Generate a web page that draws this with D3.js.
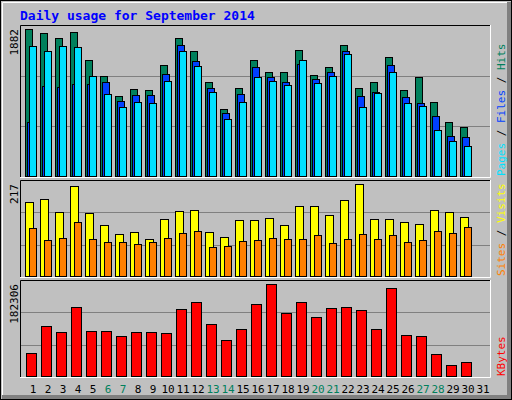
<!DOCTYPE html>
<html>
<head>
<meta charset="utf-8">
<script src="https://cdn.jsdelivr.net/npm/d3@7"></script>
<style>
  body { margin: 0; background: #fff; }
  text { font-family: "DejaVu Sans Mono", monospace; }
</style>
</head>
<body>
<div id="grafica"></div>
<script>
// datos
const days = d3.range(1, 32);
const weekend = [6, 7, 13, 14, 20, 21, 27, 28];
const hits  = [1882,1831,1767,1844,1484,1279,1023,1112,1100,1420,1767,1600,1202,856,1125,1484,1330,1330,1613,1292,1395,1677,1125,1202,1523,1100,1266,946,689,625];
const files = [689,1151,1138,1180,1180,1202,958,1035,1035,1305,1677,1472,1125,804,1048,1395,1266,1202,1433,1241,1330,1600,1023,1074,1420,1010,933,766,509,497];
const pages = [1664,1600,1664,1651,1279,1048,881,946,933,1215,1600,1407,1074,727,946,1266,1215,1164,1484,1189,1279,1561,881,1061,1330,933,894,586,445,381];
const visits = [174,181,151,212,148,120,99,103,87,134,153,155,103,92,132,132,136,120,165,165,144,179,217,134,134,127,122,155,151,139];
const sites  = [113,84,89,127,87,80,80,75,80,89,101,106,68,70,82,84,89,87,87,96,77,87,99,87,96,80,84,106,101,115];
const kbytes = [46078,98165,88150,136231,90150,90150,80134,88150,88150,86145,132224,146248,102173,72121,92156,142241,182306,124208,146248,116197,134226,136231,130219,92156,174293,82139,80134,44075,22037,28047];

const W = 512, H = 400;
const left = 20, right = 490;

const svg = d3.select("#grafica").append("svg")
  .attr("width", W).attr("height", H);

// fondo y borde 3D
svg.append("rect").attr("width", W).attr("height", H).attr("fill", "#c0c0c0");
svg.append("rect").attr("x", 0.5).attr("y", 0.5).attr("width", W - 1).attr("height", H - 1)
  .attr("fill", "none").attr("stroke", "#000");
svg.append("path").attr("d", `M2.5,${H - 4} V2.5 H${W - 4}`).attr("fill", "none").attr("stroke", "#fff");
svg.append("path").attr("d", `M${W - 3},2 V${H - 3} H2`).attr("fill", "none").attr("stroke", "#808080").attr("stroke-width", 4);

svg.append("text").attr("x", 20).attr("y", 20)
  .attr("fill", "#0000ff").attr("font-size", 13).attr("font-weight", "bold")
  .text("Daily usage for September 2014");

const x = d3.scaleLinear().domain([1, 31]).range([25, 25 + 30 * 15]);

function panel(top, bottom, maxVal, series, labels, maxLabel) {
  const y = d3.scaleLinear().domain([0, maxVal]).range([bottom - 1, top + 4]);
  const g = svg.append("g");
  // marco
  g.append("path").attr("d", `M${left + 0.5},${bottom} V${top + 0.5} H${right}`)
    .attr("fill", "none").attr("stroke", "#000");
  g.append("path").attr("d", `M${left},${bottom + 0.5} H${right + 0.5} V${top}`)
    .attr("fill", "none").attr("stroke", "#fff");
  // lineas de rejilla
  const span = bottom - top;
  [1 / 3, 2 / 3].forEach(f => {
    g.append("line").attr("x1", left + 1).attr("x2", right)
      .attr("y1", Math.round(top + span * f) + 0.5).attr("y2", Math.round(top + span * f) + 0.5)
      .attr("stroke", "#808080");
  });
  series.forEach(s => {
    g.append("g").selectAll("rect").data(s.values).enter().append("rect")
      .attr("x", (d, i) => x(i + 1) + s.dx + 0.5)
      .attr("y", d => Math.round(y(d)) + 0.5)
      .attr("width", s.w)
      .attr("height", d => y(0) - Math.round(y(d)))
      .attr("fill", s.color).attr("stroke", "#000");
  });
  // etiqueta del maximo
  g.append("text").attr("transform", `translate(18,${top + 4}) rotate(-90)`)
    .attr("text-anchor", "end").attr("font-size", 11).attr("fill", "#000").text(maxLabel);
  // titulo a la derecha
  const t = g.append("text").attr("transform", `translate(505,${bottom - 1}) rotate(-90)`)
    .attr("font-size", 11);
  labels.forEach((l, i) => {
    if (i > 0) t.append("tspan").attr("fill", "#000").text(" / ");
    t.append("tspan").attr("fill", l.color).text(l.text);
  });
}

panel(25, 177, 1882, [
  { values: hits, color: "#00805c", dx: 0, w: 7 },
  { values: files, color: "#0040ff", dx: 2, w: 7 },
  { values: pages, color: "#00e0ff", dx: 4, w: 7 }
], [{ text: "Pages", color: "#00e0ff" }, { text: "Files", color: "#0040ff" }, { text: "Hits", color: "#00805c" }], "1882");

panel(180, 277, 217, [
  { values: visits, color: "#ffff00", dx: 0, w: 8 },
  { values: sites, color: "#ff8000", dx: 4, w: 7 }
], [{ text: "Sites", color: "#ff8000" }, { text: "Visits", color: "#ffff00" }], "217");

panel(280, 377, 182306, [
  { values: kbytes, color: "#ff0000", dx: 1, w: 10 }
], [{ text: "KBytes", color: "#ff0000" }], "182306");

// etiquetas de dias
svg.append("g").selectAll("text").data(days).enter().append("text")
  .attr("x", d => x(d) + 8).attr("y", 393)
  .attr("text-anchor", "middle").attr("font-size", 11)
  .attr("fill", d => weekend.includes(d) ? "#00805c" : "#000")
  .text(d => d);
</script>
</body>
</html>
